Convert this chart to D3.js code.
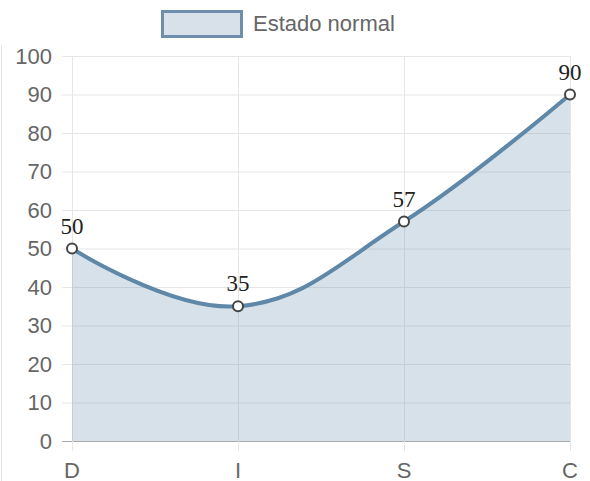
<!DOCTYPE html>
<html>
<head>
<meta charset="utf-8">
<script src="https://cdn.jsdelivr.net/npm/d3@7"></script>
<style>
  body { margin: 0; background: #fff; }
  svg { display: block; }
</style>
</head>
<body>
<svg id="chart" width="590" height="481"></svg>
<script>
const categories = ["D", "I", "S", "C"],
    values = [50, 35, 57, 90],
    yTicks = [0, 10, 20, 30, 40, 50, 60, 70, 80, 90, 100],
    seriesLabel = "Estado normal";

const svg = d3.select("#chart"),
    plotLeft = 72, plotRight = 570, plotTop = 56, plotBottom = 441,
    lineColor = "#5f87a8",
    fillColor = "rgba(95,135,168,0.25)",
    textColor = "#666";

const x = d3.scalePoint().domain(categories).range([plotLeft, plotRight]);
const y = d3.scaleLinear().domain([0, 100]).range([plotBottom, plotTop]);

// container border on the left
svg.append("line")
    .attr("x1", 1.5).attr("x2", 1.5).attr("y1", 45).attr("y2", 481)
    .attr("stroke", "#e3e3e3");

// horizontal grid
svg.append("g").selectAll("line")
    .data(yTicks)
    .enter().append("line")
    .attr("x1", plotLeft - 10).attr("x2", plotRight)
    .attr("y1", d => y(d) + 0.5).attr("y2", d => y(d) + 0.5)
    .attr("stroke", d => d === 0 ? "#aaa" : "#e6e6e6");

// vertical grid
svg.append("g").selectAll("line")
    .data(categories)
    .enter().append("line")
    .attr("x1", d => x(d) + 0.5).attr("x2", d => x(d) + 0.5)
    .attr("y1", plotTop).attr("y2", plotBottom + 10)
    .attr("stroke", "#e6e6e6");

// y tick labels
svg.append("g").selectAll("text")
    .data(yTicks)
    .enter().append("text")
    .attr("x", plotLeft - 20)
    .attr("y", d => y(d))
    .attr("dy", "0.35em")
    .attr("text-anchor", "end")
    .attr("font-family", "Liberation Sans, Arial, sans-serif")
    .attr("font-size", 22)
    .attr("fill", textColor)
    .text(d => d);

// x tick labels
svg.append("g").selectAll("text")
    .data(categories)
    .enter().append("text")
    .attr("x", d => x(d))
    .attr("y", 470)
    .attr("dy", "0.35em")
    .attr("text-anchor", "middle")
    .attr("font-family", "Liberation Sans, Arial, sans-serif")
    .attr("font-size", 22)
    .attr("fill", textColor)
    .text(d => d);

const pts = categories.map((c, i) => [x(c), y(values[i])]);
const curve = d3.curveCardinal.tension(-0.2);

svg.append("path")
    .attr("d", d3.area().x(d => d[0]).y0(plotBottom).y1(d => d[1]).curve(curve)(pts))
    .attr("fill", fillColor);

svg.append("path")
    .attr("d", d3.line().curve(curve)(pts))
    .attr("fill", "none")
    .attr("stroke", lineColor)
    .attr("stroke-width", 4);

svg.append("g").selectAll("circle")
    .data(pts)
    .enter().append("circle")
    .attr("cx", d => d[0]).attr("cy", d => d[1])
    .attr("r", 5)
    .attr("fill", "#fff")
    .attr("stroke", "#444")
    .attr("stroke-width", 2);

// data labels
svg.append("g").selectAll("text")
    .data(values)
    .enter().append("text")
    .attr("x", (d, i) => x(categories[i]))
    .attr("y", d => y(d) - 23)
    .attr("dy", "0.35em")
    .attr("text-anchor", "middle")
    .attr("font-family", "Liberation Serif, serif")
    .attr("font-size", 23)
    .attr("fill", "#222")
    .text(d => d);

// legend
svg.append("rect")
    .attr("x", 162.5).attr("y", 11.5).attr("width", 79).attr("height", 25)
    .attr("fill", "#d8e1e9")
    .attr("stroke", "#6d8fab")
    .attr("stroke-width", 3);

svg.append("text")
    .attr("x", 253).attr("y", 23)
    .attr("dy", "0.35em")
    .attr("font-family", "Liberation Sans, Arial, sans-serif")
    .attr("font-size", 22)
    .attr("fill", textColor)
    .text(seriesLabel);
</script>
</body>
</html>
